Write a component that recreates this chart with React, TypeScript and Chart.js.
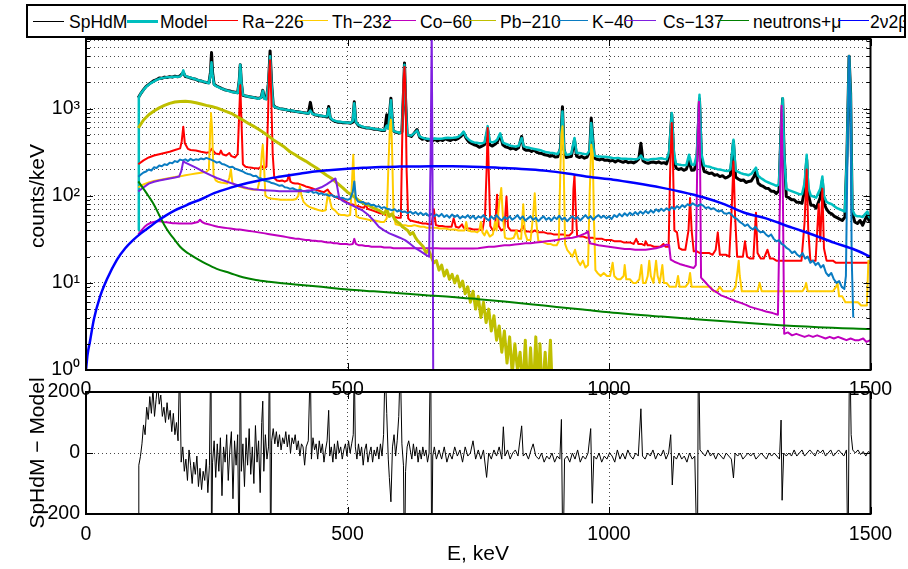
import React, { useEffect, useRef } from 'react';
import { Chart, registerables } from 'chart.js';

Chart.register(...registerables);

const FONT = "'Liberation Sans', Arial, Helvetica, sans-serif";

// ---------- axes / ticks ----------
const X_TICKS = [0, 500, 1000, 1500];
const Y_MIN = 1;
const Y_MAX = 6300;
const Y_DECADES = [1, 10, 100, 1000];
const Y_DECADE_LABELS = ['10⁰', '10¹', '10²', '10³'];
const Y_MINOR_MULT = [1, 2, 3, 4, 5, 6, 7, 8, 9];
const RES_TICKS = [-200, 0, 200];

// ---------- series ----------
const SERIES_NAMES = ['SpHdM', 'Model', 'Ra−226', 'Th−232', 'Co−60', 'Pb−210', 'K−40', 'Cs−137', 'neutrons+μ', '2ν2β'];
const SERIES_COLORS = ['#000000', '#00BFBF', '#FF0000', '#FFCC00', '#BF00BF', '#BFBF00', '#0A7CC2', '#7F1FE0', '#008000', '#0000FF'];

const SPHDM: [number, number][] = [[100,1330],[105,1500],[110,1650],[115,1800],[120,1900],[125,2000],[130,2100],[135,2150],[140,2250],[145,2230],[150,2300],[155,2280],[160,2330],[165,2300],[170,2360],[175,2320],[180,2380],[186,2600],[190,2340],[195,2300],[200,2250],[205,2200],[210,2170],[215,2100],[220,2080],[225,2030],[230,2000],[235,1980],[238,2600],[240,4400],[242,2600],[245,1900],[250,1820],[255,1760],[260,1700],[265,1650],[270,1620],[275,1600],[280,1560],[285,1540],[290,1520],[293,2100],[295,3200],[297,2000],[300,1420],[305,1400],[310,1380],[315,1360],[320,1340],[325,1330],[330,1310],[335,1350],[338,1620],[341,1320],[345,1300],[349,2000],[352,4600],[355,1900],[358,1100],[362,1040],[366,1020],[370,1000],[375,990],[380,980],[385,960],[390,950],[395,940],[400,930],[405,920],[410,910],[415,900],[420,890],[425,880],[429,1180],[433,880],[437,850],[442,840],[447,830],[452,820],[457,810],[461,800],[464,1060],[467,780],[471,740],[476,715],[481,700],[486,700],[491,690],[496,690],[501,690],[506,680],[510,700],[513,1200],[516,700],[521,640],[526,620],[531,610],[536,600],[541,600],[546,590],[551,580],[556,580],[561,570],[566,560],[571,560],[575,850],[578,600],[583,1320],[587,560],[591,540],[596,530],[600,525],[604,540],[607,1500],[609,3350],[611,1300],[614,500],[618,490],[622,480],[627,520],[633,575],[638,470],[643,445],[648,455],[653,430],[658,440],[662,425],[667,445],[672,425],[677,440],[682,430],[687,450],[692,440],[697,430],[702,448],[707,440],[712,455],[717,480],[722,530],[727,455],[732,415],[737,400],[742,385],[747,378],[752,360],[757,372],[762,385],[768,560],[772,385],[777,372],[782,390],[786,410],[792,500],[797,385],[802,365],[807,358],[812,345],[817,352],[822,340],[827,355],[833,480],[837,345],[842,332],[847,335],[852,322],[857,335],[862,315],[867,308],[872,305],[877,295],[882,292],[887,284],[892,290],[897,278],[902,280],[907,350],[911,1050],[914,340],[918,275],[923,280],[928,282],[934,440],[938,285],[943,275],[948,282],[953,270],[958,278],[963,320],[966,780],[969,450],[972,272],[977,262],[982,258],[987,265],[992,255],[997,258],[1002,250],[1007,255],[1012,244],[1017,256],[1022,248],[1027,242],[1032,250],[1037,240],[1042,244],[1047,238],[1052,248],[1057,265],[1061,400],[1065,252],[1070,240],[1075,236],[1080,242],[1085,244],[1090,238],[1095,245],[1100,236],[1105,240],[1110,232],[1115,290],[1120,860],[1124,290],[1128,208],[1133,200],[1138,205],[1143,196],[1148,202],[1153,250],[1158,196],[1163,198],[1168,250],[1173,1300],[1177,250],[1182,190],[1187,186],[1192,180],[1197,182],[1202,172],[1207,175],[1212,166],[1217,170],[1222,160],[1227,164],[1232,172],[1238,420],[1242,164],[1247,156],[1252,150],[1257,152],[1262,142],[1267,146],[1272,148],[1277,165],[1281,190],[1285,140],[1290,132],[1295,128],[1300,122],[1305,121],[1310,113],[1315,113],[1320,106],[1325,114],[1329,600],[1332,1300],[1335,290],[1339,98],[1344,95],[1349,90],[1354,90],[1359,84],[1364,84],[1369,82],[1374,115],[1378,260],[1381,104],[1386,78],[1391,78],[1396,72],[1401,86],[1404,95],[1408,150],[1411,82],[1416,70],[1421,64],[1426,62],[1431,58],[1436,56],[1441,54],[1446,52],[1451,57],[1455,300],[1459,4000],[1462,1500],[1465,64],[1470,50],[1475,48],[1480,52],[1485,46],[1490,54],[1494,60],[1497,52],[1500,53]];

const MODEL: [number, number][] = [[100,40],[101,1350],[105,1500],[110,1640],[115,1780],[120,1880],[125,1980],[130,2060],[135,2140],[140,2200],[145,2240],[150,2270],[155,2290],[160,2300],[165,2310],[170,2320],[175,2330],[180,2340],[183,2450],[186,2750],[189,2400],[193,2320],[200,2260],[205,2220],[210,2170],[215,2120],[220,2080],[225,2040],[230,2000],[235,1960],[238,2500],[240,3400],[242,2400],[245,1880],[250,1800],[255,1740],[260,1690],[265,1650],[270,1610],[275,1580],[280,1550],[285,1530],[290,1510],[293,2100],[295,3200],[297,2000],[300,1440],[305,1400],[310,1380],[315,1360],[320,1340],[325,1320],[330,1300],[335,1340],[338,1600],[341,1300],[345,1280],[349,2000],[352,4000],[355,1800],[358,1080],[362,1040],[366,1020],[370,1000],[375,990],[380,975],[385,965],[390,955],[395,945],[400,930],[405,920],[410,915],[415,900],[420,890],[425,880],[429,950],[433,870],[437,855],[442,845],[447,835],[452,825],[457,815],[461,820],[464,1000],[467,790],[471,750],[476,725],[481,710],[486,705],[491,700],[496,695],[501,690],[506,690],[510,720],[513,1150],[516,700],[521,650],[526,630],[531,615],[536,605],[541,600],[546,595],[551,588],[556,582],[561,575],[566,568],[571,570],[575,640],[578,590],[583,1250],[587,560],[591,545],[596,535],[600,525],[604,540],[607,1400],[609,3200],[611,1200],[614,505],[618,495],[622,490],[627,520],[633,560],[638,480],[643,465],[648,455],[653,450],[658,445],[662,450],[667,455],[672,450],[677,452],[682,455],[687,460],[692,462],[697,460],[702,462],[707,465],[712,475],[717,500],[722,545],[727,470],[732,440],[737,420],[742,410],[747,405],[752,400],[757,400],[762,410],[768,630],[772,420],[777,410],[782,420],[786,440],[792,520],[797,410],[802,395],[807,385],[812,375],[817,370],[822,368],[827,372],[833,460],[837,370],[842,360],[847,355],[852,350],[857,345],[862,340],[867,335],[872,328],[877,320],[882,315],[887,312],[892,310],[897,305],[902,302],[907,340],[911,930],[914,340],[918,296],[923,298],[928,305],[934,460],[938,310],[943,310],[948,305],[953,302],[958,300],[963,330],[966,685],[969,420],[972,290],[977,283],[982,282],[987,281],[992,280],[997,278],[1002,275],[1007,272],[1012,270],[1017,272],[1022,268],[1027,266],[1032,266],[1037,265],[1042,264],[1047,262],[1052,262],[1057,270],[1061,290],[1065,265],[1070,260],[1075,258],[1080,262],[1085,265],[1090,265],[1095,268],[1100,270],[1105,265],[1110,262],[1115,320],[1120,890],[1124,320],[1128,232],[1133,228],[1138,225],[1143,224],[1148,226],[1153,296],[1158,228],[1163,225],[1168,300],[1173,1440],[1177,300],[1182,222],[1187,218],[1192,215],[1197,210],[1202,206],[1207,202],[1212,200],[1217,197],[1222,194],[1227,192],[1232,200],[1238,440],[1242,195],[1247,188],[1252,182],[1257,178],[1262,175],[1267,172],[1272,178],[1277,195],[1281,210],[1285,170],[1290,160],[1295,153],[1300,146],[1305,142],[1310,138],[1315,134],[1320,130],[1325,135],[1329,600],[1332,1320],[1335,300],[1339,120],[1344,116],[1349,113],[1354,110],[1359,107],[1364,104],[1369,104],[1374,140],[1378,296],[1381,125],[1386,100],[1391,98],[1396,95],[1401,110],[1404,120],[1408,166],[1411,100],[1416,85],[1421,82],[1426,80],[1431,76],[1436,72],[1441,70],[1446,68],[1451,66],[1455,300],[1459,4000],[1462,1400],[1465,70],[1470,60],[1475,58],[1480,58],[1485,57],[1490,62],[1494,66],[1497,58],[1500,55]];

const RA226: [number, number][] = [[100,230],[110,255],[120,275],[130,290],[140,300],[150,310],[160,320],[170,335],[180,350],[183,420],[186,620],[189,400],[195,345],[200,335],[210,330],[220,320],[230,312],[236,315],[240,345],[243,330],[248,305],[255,300],[258,330],[261,300],[268,290],[274,310],[278,285],[285,275],[290,300],[293,900],[295,1850],[297,800],[300,230],[305,215],[310,212],[320,208],[330,205],[336,220],[340,205],[345,215],[348,800],[350,2500],[352,3600],[354,1500],[357,300],[360,160],[365,150],[370,148],[375,150],[380,145],[385,150],[388,175],[391,145],[395,140],[400,138],[405,138],[410,135],[415,132],[420,128],[426,125],[432,122],[438,118],[444,115],[450,112],[455,110],[462,118],[466,108],[472,100],[478,96],[484,93],[490,90],[496,86],[502,82],[508,80],[514,78],[520,76],[526,74],[532,73],[535,82],[538,71],[544,69],[550,67],[556,65],[562,63],[568,62],[574,60],[580,60],[585,62],[590,57],[596,56],[602,56],[605,600],[607,2000],[609,3000],[611,1500],[613,200],[616,55],[620,52],[626,51],[632,50],[638,49],[644,48],[650,48],[656,47],[661,47],[665,70],[669,46],[675,45],[681,45],[687,44],[693,44],[699,44],[703,55],[707,44],[713,43],[719,47],[722,43],[728,42],[734,42],[740,41],[746,41],[752,41],[758,40],[763,60],[766,200],[768,600],[770,200],[773,45],[778,40],[782,42],[786,103],[789,45],[794,40],[800,42],[804,98],[807,44],[812,40],[818,40],[824,40],[830,39],[836,45],[840,39],[846,39],[852,38],[858,40],[864,38],[870,38],[876,38],[882,37],[888,37],[894,36],[900,36],[906,36],[912,36],[918,35],[924,35],[930,38],[932,120],[934,170],[936,80],[939,35],[945,34],[951,34],[957,33],[963,33],[969,33],[975,32],[981,32],[987,32],[993,31],[999,31],[1005,31],[1011,30],[1017,30],[1023,30],[1029,29],[1035,29],[1041,29],[1047,28],[1052,32],[1056,28],[1062,28],[1068,27],[1070,30],[1074,27],[1080,27],[1086,26],[1092,26],[1098,26],[1104,28],[1108,26],[1114,26],[1117,200],[1120,685],[1122,300],[1125,40],[1130,38],[1134,25],[1140,24],[1146,24],[1152,40],[1155,94],[1158,40],[1162,23],[1168,23],[1174,22],[1180,22],[1186,22],[1192,22],[1198,21],[1204,24],[1208,38],[1212,21],[1218,21],[1224,21],[1230,20],[1235,80],[1238,247],[1241,60],[1245,20],[1250,20],[1256,20],[1260,30],[1264,20],[1270,19],[1276,19],[1281,64],[1284,22],[1290,19],[1296,19],[1303,24],[1308,19],[1314,19],[1320,18],[1326,18],[1332,18],[1338,18],[1344,18],[1350,18],[1356,18],[1362,18],[1368,18],[1374,50],[1378,200],[1381,40],[1385,18],[1390,18],[1395,18],[1401,80],[1404,30],[1408,120],[1411,25],[1416,18],[1422,18],[1428,18],[1434,17],[1440,17],[1446,17],[1452,17],[1458,17],[1464,17],[1470,17],[1476,17],[1482,17],[1488,17],[1494,17],[1500,17]];

const TH232: [number, number][] = [[100,125],[110,135],[120,142],[130,148],[140,152],[150,156],[160,160],[170,164],[180,167],[190,172],[200,176],[210,180],[220,184],[230,188],[235,200],[238,700],[239,890],[241,600],[244,170],[248,150],[252,145],[258,142],[264,140],[270,138],[274,160],[277,200],[280,140],[286,132],[292,128],[298,125],[304,122],[310,120],[316,118],[322,117],[328,118],[333,160],[336,300],[338,385],[340,250],[343,100],[348,95],[354,93],[360,92],[366,91],[372,90],[378,90],[384,90],[390,90],[396,90],[402,92],[406,100],[409,130],[412,100],[416,85],[422,78],[428,74],[434,72],[440,70],[446,68],[452,67],[458,68],[461,90],[463,107],[466,90],[470,72],[476,68],[482,62],[488,60],[494,60],[500,59],[505,60],[508,120],[511,296],[514,100],[517,58],[522,56],[528,55],[534,54],[540,53],[546,52],[552,52],[558,51],[564,50],[570,50],[575,55],[578,200],[581,600],[583,748],[585,400],[588,60],[592,47],[598,46],[604,46],[610,46],[616,45],[622,45],[628,46],[634,45],[640,44],[646,44],[652,43],[658,43],[664,43],[670,43],[676,42],[682,42],[688,42],[694,41],[700,41],[706,41],[712,40],[718,40],[724,40],[727,50],[730,40],[736,39],[742,39],[748,38],[752,40],[755,50],[758,38],[762,35],[766,40],[772,34],[778,36],[782,50],[785,40],[790,80],[794,123],[797,60],[801,33],[806,32],[812,32],[818,33],[823,40],[827,32],[832,32],[836,80],[839,38],[844,31],[850,31],[855,60],[858,107],[861,50],[865,30],[870,30],[876,29],[882,28],[888,28],[894,27],[900,27],[904,30],[907,200],[909,500],[911,626],[913,300],[916,28],[920,24],[925,22],[930,20],[935,24],[940,18],[945,16],[950,18],[955,15],[960,16],[963,100],[966,385],[969,300],[971,60],[974,14],[978,13],[984,12],[990,13],[996,12],[1002,12],[1007,17],[1010,12],[1016,11],[1022,11],[1028,12],[1030,16],[1033,11],[1040,11],[1046,10],[1052,10],[1058,11],[1062,16],[1065,10],[1070,10],[1074,12],[1077,18],[1080,12],[1085,10],[1090,18],[1093,12],[1097,10],[1102,16],[1105,10],[1110,10],[1116,9],[1122,9],[1128,9],[1132,12],[1135,9],[1140,9],[1146,9],[1152,10],[1155,13],[1158,9],[1164,9],[1170,9],[1176,9],[1182,9],[1188,9],[1194,9],[1200,8],[1206,8],[1212,9],[1218,8],[1224,8],[1230,8],[1236,8],[1242,9],[1246,14],[1248,18],[1250,12],[1254,8],[1260,8],[1266,8],[1272,8],[1278,8],[1284,8],[1288,10],[1292,8],[1298,8],[1304,8],[1310,8],[1316,8],[1322,8],[1328,8],[1334,8],[1340,8],[1346,8],[1352,8],[1358,8],[1364,8],[1370,8],[1375,9],[1377,10],[1380,8],[1386,8],[1392,8],[1398,8],[1404,8],[1410,8],[1416,8],[1422,8],[1428,8],[1434,9],[1437,10],[1440,7],[1446,7],[1452,6],[1458,6],[1464,6],[1470,6],[1476,6],[1482,5.5],[1488,5.5],[1493,5.5],[1496,18],[1500,17]];

const CO60: [number, number][] = [[100,36],[106,40],[112,44],[118,47],[124,49],[130,50],[136,51],[142,51],[148,50],[154,49.5],[160,49],[166,48.5],[172,48.5],[178,48],[184,48],[190,48],[196,48],[202,48],[208,49],[214,50],[218,53],[222,50],[228,48],[234,47],[240,46],[246,45],[252,44],[258,43.5],[264,43],[270,42.5],[276,42],[282,41.5],[288,41],[294,41],[300,40.5],[306,40],[312,39.5],[318,39],[324,38.5],[330,38],[336,37.5],[342,37],[348,36.5],[354,36],[360,35.5],[366,35],[372,34.5],[378,34],[384,33.5],[390,33],[396,32.5],[402,32],[408,32],[414,31.5],[420,31],[426,31],[432,30.5],[438,30.5],[444,30],[450,30],[456,29.5],[462,29],[468,29],[474,28.5],[480,28.5],[486,28],[492,28],[498,28],[504,27.5],[510,28],[513,32],[516,28],[522,27],[528,27],[534,26.5],[540,26.5],[546,26],[552,26],[558,26],[564,26],[570,25.5],[576,25.5],[582,25.5],[588,25],[594,25],[600,25],[610,25],[620,25],[630,25],[640,25],[650,25],[660,25],[670,25],[680,24.8],[690,24.8],[700,24.8],[710,24.8],[720,24.8],[730,24.8],[740,24.8],[750,25],[760,25.5],[770,26],[780,26],[790,26.5],[800,27],[810,27],[820,27.5],[830,28],[840,28.5],[850,28.5],[860,29],[870,29.5],[880,30],[890,30.5],[900,31],[910,32],[920,32.5],[930,33],[940,34],[950,36],[955,37],[960,39],[963,28.5],[970,28],[980,27],[990,26.5],[1000,26],[1010,25.5],[1020,25],[1030,24.5],[1040,24.5],[1050,24],[1060,24],[1070,24],[1080,24.5],[1090,25],[1100,26],[1110,27.5],[1115,27],[1118,18.5],[1125,17.5],[1135,16.5],[1145,15.8],[1155,15.2],[1162,14.8],[1166,16],[1169,300],[1172,1200],[1174,300],[1176,11.5],[1182,10.5],[1190,9.3],[1198,8.3],[1206,7.8],[1214,7.2],[1222,6.9],[1230,6.6],[1236,6.4],[1244,6.1],[1252,5.9],[1262,5.6],[1270,5.3],[1280,5.1],[1290,4.9],[1300,4.7],[1313,4.5],[1323,4.3],[1327,100],[1330,1080],[1332,200],[1335,2.6],[1342,2.7],[1350,2.5],[1358,2.6],[1366,2.5],[1374,2.4],[1382,2.5],[1390,2.4],[1398,2.5],[1406,2.4],[1414,2.3],[1422,2.4],[1430,2.3],[1438,2.4],[1446,2.3],[1454,2.2],[1462,2.3],[1470,2.2],[1478,2.2],[1486,2.3],[1492,2.1],[1500,2.2]];

const PB210: [number, number][] = [[100,600],[110,740],[120,850],[130,940],[140,1020],[150,1090],[160,1150],[170,1190],[180,1210],[190,1215],[200,1200],[210,1170],[220,1130],[230,1090],[240,1060],[250,1020],[260,970],[270,920],[280,870],[290,800],[300,740],[310,680],[320,630],[330,580],[340,530],[350,480],[360,430],[370,395],[380,360],[390,320],[400,295],[410,270],[420,250],[430,228],[440,210],[450,190],[460,172],[470,158],[480,140],[490,125],[500,110],[510,100],[520,90],[530,82],[540,78],[550,72],[560,68],[570,62],[575,70],[580,58],[585,62],[590,54],[595,50],[600,48],[605,44],[610,42],[615,40],[620,36],[625,38],[630,33],[635,30],[640,28],[645,26],[650,22],[655,24],[660,20],[665,17],[670,18],[675,14],[680,16],[685,12],[690,14],[695,11],[700,12.5],[705,10],[710,12],[715,9],[720,10.5],[725,7.5],[730,9],[735,6],[740,8],[745,5],[750,7],[755,4],[760,6],[765,3.5],[770,5],[775,2.8],[780,4.2],[785,2.2],[790,3.2],[795,1.6],[800,2.8],[805,1.2],[810,2.4],[815,0.9],[820,2.0],[825,1.0],[830,1.6],[835,0.6],[840,2.2],[845,0.5],[850,1.8],[855,0.5],[860,2.4],[865,0.6],[868,2.0],[872,0.5],[878,1.6],[882,0.5],[888,2.2],[892,0.5],[900,0.5]];

const K40: [number, number][] = [[100,165],[105,175],[110,185],[115,190],[120,200],[125,195],[130,212],[135,208],[140,222],[145,218],[150,230],[155,226],[160,240],[165,236],[170,250],[175,244],[180,260],[185,255],[190,262],[195,250],[200,265],[205,255],[210,262],[215,258],[220,268],[225,262],[230,272],[235,265],[240,258],[245,250],[250,240],[255,245],[260,232],[265,228],[270,220],[275,212],[280,215],[285,205],[290,200],[295,195],[300,190],[305,182],[310,178],[315,175],[320,168],[325,170],[330,160],[335,158],[340,150],[345,148],[350,145],[355,140],[360,138],[365,134],[370,130],[375,132],[380,125],[385,124],[390,120],[395,122],[400,118],[405,115],[410,117],[415,113],[420,112],[425,110],[430,114],[435,108],[440,110],[445,105],[450,107],[455,103],[460,104],[465,100],[470,102],[475,97],[480,98],[485,94],[490,95],[495,92],[500,90],[505,92],[510,110],[513,146],[516,95],[520,86],[525,84],[530,85],[535,80],[540,82],[545,78],[550,79],[555,75],[560,76],[565,72],[570,74],[575,71],[580,70],[585,68],[590,70],[595,66],[600,68],[605,65],[610,66],[615,63],[620,66],[625,62],[630,65],[635,61],[640,64],[645,60],[650,63],[655,59],[660,62],[665,58],[670,61],[675,58],[680,62],[685,57],[690,60],[695,56],[700,61],[705,57],[710,60],[715,55],[720,58],[725,56],[730,60],[735,55],[740,59],[745,54],[750,58],[755,56],[760,60],[765,55],[770,52],[775,58],[780,54],[785,60],[790,55],[795,52],[800,57],[805,54],[810,58],[815,53],[820,56],[825,60],[830,54],[835,58],[840,52],[845,55],[850,58],[855,53],[860,56],[865,51],[870,55],[875,58],[880,53],[885,56],[890,52],[895,57],[900,54],[905,59],[910,53],[915,56],[920,51],[925,55],[930,58],[935,54],[940,57],[945,52],[950,56],[955,60],[960,55],[965,58],[970,53],[975,57],[980,60],[985,56],[990,59],[995,55],[1000,58],[1005,54],[1010,60],[1015,57],[1020,62],[1025,58],[1030,63],[1035,59],[1040,64],[1045,60],[1050,65],[1055,61],[1060,66],[1065,62],[1070,67],[1075,63],[1080,68],[1085,64],[1090,70],[1095,66],[1100,71],[1105,67],[1110,72],[1115,68],[1120,74],[1125,70],[1130,76],[1135,72],[1140,78],[1145,74],[1150,80],[1155,77],[1160,82],[1165,78],[1170,76],[1175,80],[1180,77],[1185,72],[1190,74],[1195,70],[1200,72],[1205,68],[1210,66],[1215,68],[1220,63],[1225,62],[1230,64],[1235,60],[1240,56],[1245,54],[1250,50],[1255,48],[1260,45],[1265,47],[1270,43],[1275,41],[1280,44],[1285,40],[1290,38],[1295,39],[1300,36],[1305,34],[1310,36],[1315,32],[1320,30],[1325,31],[1330,28],[1335,27],[1340,25],[1345,24],[1350,22],[1355,23],[1360,21],[1365,20],[1370,22],[1375,19],[1380,20],[1385,17],[1390,18],[1395,16],[1400,17],[1405,15],[1410,16],[1415,13],[1420,12],[1425,13],[1430,11],[1435,10],[1440,10.5],[1445,9],[1450,8.5],[1453,12],[1456,300],[1459,4000],[1462,1000],[1464,20],[1467,4]];

const CS137: [number, number][] = [[100,112],[110,125],[120,138],[130,145],[140,150],[150,154],[160,158],[170,162],[178,166],[182,190],[186,248],[190,240],[200,225],[210,210],[220,195],[230,182],[240,170],[250,160],[260,152],[270,145],[280,138],[290,132],[300,126],[310,122],[320,119],[330,117],[340,116],[350,115],[360,114],[370,113],[380,113],[390,113],[400,113],[410,113],[420,114],[430,116],[440,119],[450,125],[460,135],[470,148],[477,158],[480,130],[484,95],[490,88],[500,82],[510,77],[520,72],[530,67],[540,60],[550,52],[560,44],[570,40],[580,37],[590,35],[600,33],[610,31],[620,28],[630,25],[640,23],[650,21],[656,20],[659,300],[661,8000],[663,50],[664,0.5]];

const NEUTRONS: [number, number][] = [[100,146],[110,120],[120,98],[130,79],[140,60],[150,46],[160,37],[170,31],[180,26],[190,23],[200,21],[215,18.5],[230,16.5],[250,14.5],[275,13],[300,11.6],[325,10.8],[350,10.3],[375,9.9],[400,9.6],[450,9.0],[500,8.4],[550,8.0],[600,7.6],[650,7.2],[700,6.9],[750,6.5],[800,6.1],[850,5.7],[900,5.3],[950,4.95],[1000,4.6],[1100,4.1],[1200,3.7],[1300,3.35],[1400,3.1],[1500,2.95]];

const DBD: [number, number][] = [[0,1],[3,1.5],[8,2.2],[15,3.8],[27,7],[40,11],[59,18.4],[75,25],[90,31],[105,37],[122,44],[138,52],[154,60],[170,68],[186,75],[200,82],[218,90],[245,107],[275,123],[309,140],[340,154],[373,166],[405,178],[437,190],[470,198],[500,204],[530,209],[565,214],[600,216],[629,217],[660,218],[700,218],[757,214],[800,208],[850,200],[881,193],[920,180],[960,165],[1008,153],[1050,140],[1100,124],[1135,112],[1180,96],[1220,80],[1262,63],[1300,55],[1350,43],[1390,35.7],[1430,29],[1470,24],[1500,20]];

const RESIDUAL: [number, number][] = [[100,-400],[101,-40],[104,-12],[107,30],[110,92],[113,60],[116,150],[119,110],[122,185],[125,130],[128,210],[131,120],[134,175],[137,230],[140,160],[143,190],[146,120],[149,150],[152,100],[155,165],[158,110],[161,140],[164,70],[167,130],[170,60],[173,100],[176,40],[179,300],[182,-30],[185,20],[188,-60],[191,-20],[194,-90],[197,10],[200,-40],[203,-100],[206,-30],[209,-70],[212,-10],[215,-110],[218,-50],[221,-120],[224,-60],[227,-90],[230,-20],[233,-130],[236,-40],[239,400],[240,-400],[242,-30],[245,40],[248,-80],[251,30],[254,-60],[257,50],[260,-140],[263,20],[266,-30],[269,60],[272,-90],[275,10],[278,70],[281,-150],[284,40],[287,-40],[290,60],[293,-400],[295,400],[297,-60],[300,30],[303,-110],[306,50],[309,-40],[312,80],[315,-70],[318,20],[321,-100],[324,90],[327,-30],[330,40],[333,-130],[336,100],[338,170],[340,-60],[343,60],[346,-20],[349,20],[351,400],[353,-400],[355,40],[358,80],[361,30],[364,70],[367,20],[370,60],[373,10],[376,50],[379,30],[382,70],[385,20],[388,60],[391,0],[394,50],[397,30],[400,60],[403,10],[406,40],[409,-10],[412,30],[415,20],[418,-40],[421,20],[425,40],[429,300],[431,-20],[434,50],[437,10],[440,30],[443,-20],[446,40],[449,0],[452,30],[455,-30],[458,10],[461,40],[464,140],[466,-10],[469,20],[472,-30],[475,30],[478,-20],[481,40],[484,0],[487,20],[490,-20],[493,10],[496,30],[499,-10],[502,40],[505,0],[508,30],[511,60],[513,300],[515,20],[518,-20],[521,30],[524,-10],[527,20],[530,-40],[533,10],[536,30],[539,-30],[542,0],[545,20],[548,-30],[551,10],[554,-10],[557,20],[560,-20],[563,30],[566,-10],[569,60],[572,300],[575,130],[578,-20],[580,-80],[583,-160],[586,20],[589,60],[592,-10],[595,40],[598,120],[601,300],[604,30],[607,-40],[609,-400],[611,-60],[614,20],[617,40],[620,10],[623,-20],[626,30],[629,-10],[632,20],[635,-30],[638,10],[641,-20],[644,20],[647,-10],[650,10],[653,-30],[656,0],[659,400],[661,-400],[663,-10],[666,20],[670,-20],[675,10],[680,-20],[685,20],[690,-30],[695,0],[700,-20],[705,20],[710,-10],[715,10],[720,-30],[725,20],[730,-10],[735,0],[740,40],[745,-20],[750,10],[755,-20],[760,10],[766,-80],[770,0],[775,-20],[780,10],[785,-10],[790,20],[795,-20],[798,86],[801,-10],[806,10],[811,-20],[816,0],[821,10],[826,-10],[833,89],[836,-10],[841,0],[846,-20],[851,10],[855,30],[860,-10],[866,-20],[871,0],[876,-30],[881,-10],[886,-20],[891,0],[896,-30],[901,-10],[906,-20],[909,110],[912,-400],[915,-20],[920,-10],[925,-30],[930,0],[935,-20],[940,10],[945,-30],[950,-10],[955,-20],[960,0],[965,80],[968,-165],[971,-10],[976,-20],[981,0],[986,-30],[991,-10],[996,-20],[1001,0],[1006,-10],[1011,-30],[1016,10],[1021,-20],[1026,0],[1031,-20],[1036,10],[1041,-10],[1046,-20],[1051,0],[1056,-10],[1061,145],[1064,-10],[1069,-20],[1074,0],[1079,-10],[1084,10],[1089,-20],[1094,0],[1099,-10],[1104,10],[1109,-20],[1114,0],[1118,60],[1121,-105],[1124,-10],[1129,-20],[1134,0],[1139,-20],[1144,-10],[1149,-30],[1154,0],[1159,-20],[1164,-10],[1169,-400],[1171,400],[1174,10],[1179,0],[1184,-10],[1189,10],[1194,-10],[1199,0],[1204,-20],[1209,0],[1214,-10],[1219,-20],[1224,0],[1229,-10],[1234,-20],[1238,-82],[1241,0],[1246,-10],[1251,0],[1256,-20],[1261,-10],[1266,0],[1271,-10],[1276,0],[1281,-20],[1286,-10],[1291,0],[1296,-10],[1301,-20],[1306,0],[1311,-10],[1316,0],[1321,-10],[1326,-20],[1329,108],[1331,-155],[1334,0],[1339,-10],[1344,0],[1349,-10],[1354,10],[1359,-10],[1364,0],[1369,10],[1374,-10],[1379,0],[1384,10],[1389,0],[1394,-10],[1399,10],[1404,0],[1409,10],[1414,-10],[1419,0],[1424,10],[1429,-10],[1434,0],[1439,10],[1444,0],[1449,-10],[1454,10],[1457,-400],[1460,400],[1463,60],[1466,10],[1471,0],[1476,10],[1481,-5],[1486,5],[1491,-10],[1496,5],[1500,0]];

const SPECTRA = [SPHDM, MODEL, RA226, TH232, CO60, PB210, K40, CS137, NEUTRONS, DBD];

// ---------- styles ----------
const LINE_WIDTHS = [3, 2.5, 2, 2, 2, 3, 2, 2, 2, 2.5];
const SMOOTH = [false, false, false, false, false, false, false, false, true, true];
const LEGEND_LINE_X = [33, 127, 207, 297, 385, 465, 557, 625, 718, 838];
const LEGEND_TEXT_X = [69, 160, 242, 332, 420, 500, 592, 663, 753, 870];
const LEGEND_LINE_W = [1, 3, 1.5, 1.5, 1.5, 1.5, 1.5, 1.5, 1.5, 1.5];
const TICK_FONT = 19.5;
const LABEL_FONT = 21;
const LEGEND_FONT = 17.5;

const LOG_TICKS: number[] = [];
Y_DECADES.forEach((d) => Y_MINOR_MULT.forEach((m) => { if (d * m <= Y_MAX) LOG_TICKS.push(d * m); }));

const GRID_COLOR = 'rgba(40,40,40,0.85)';

const framePlugin = {
  id: 'frame',
  afterDatasetsDraw(chart: any) {
    const { ctx, chartArea: a, scales } = chart;
    const x = scales.x;
    const y = scales.y;
    ctx.save();
    ctx.strokeStyle = '#000';
    ctx.lineWidth = 1;
    const seg = (x1: number, y1: number, x2: number, y2: number) => {
      ctx.beginPath(); ctx.moveTo(x1, y1); ctx.lineTo(x2, y2); ctx.stroke();
    };
    X_TICKS.forEach((v) => {
      const px = Math.round(x.getPixelForValue(v)) + 0.5;
      seg(px, a.bottom, px, a.bottom - 7);
      seg(px, a.top, px, a.top + 7);
    });
    y.ticks.forEach((t: any) => {
      const py = Math.round(y.getPixelForValue(t.value)) + 0.5;
      const major = y.type === 'logarithmic' ? Y_DECADES.includes(t.value) : true;
      const len = major ? 7 : 4;
      seg(a.left, py, a.left + len, py);
      seg(a.right, py, a.right - len, py);
    });
    ctx.lineWidth = 2;
    ctx.strokeRect(a.left, a.top, a.right - a.left, a.bottom - a.top);
    ctx.restore();
  },
};

function xScale(height: number, padding: number) {
  return {
    type: 'linear',
    min: 0,
    max: 1500,
    afterBuildTicks: (s: any) => { s.ticks = X_TICKS.map((v) => ({ value: v })); },
    afterFit: (s: any) => { s.height = height; s.paddingLeft = 0; s.paddingRight = 0; },
    ticks: {
      padding,
      color: '#000',
      font: { family: FONT, size: TICK_FONT },
      maxRotation: 0,
      autoSkip: false,
      callback: (v: number) => String(v),
    },
    grid: {
      drawTicks: false,
      lineWidth: 1,
      color: (c: any) => (c.tick && (c.tick.value === 0 || c.tick.value === 1500) ? 'rgba(0,0,0,0)' : GRID_COLOR),
    },
    border: { display: false, dash: [1, 3] },
  };
}

function mainConfig(): any {
  return {
    type: 'line',
    data: {
      datasets: SPECTRA.map((d, i) => ({
        label: SERIES_NAMES[i],
        data: d.map(([x, y]) => ({ x, y })),
        borderColor: SERIES_COLORS[i],
        backgroundColor: SERIES_COLORS[i],
        borderWidth: LINE_WIDTHS[i],
        pointRadius: 0,
        fill: false,
        borderJoinStyle: 'round',
        cubicInterpolationMode: SMOOTH[i] ? 'monotone' : 'default',
        tension: 0,
        order: -i,
      })),
    },
    options: {
      animation: false,
      responsive: false,
      events: [],
      layout: { padding: { left: 0, top: 39, right: 37.5, bottom: 0 } },
      plugins: { legend: { display: false }, tooltip: { enabled: false } },
      scales: {
        x: xScale(30, 8),
        y: {
          type: 'logarithmic',
          min: Y_MIN,
          max: Y_MAX,
          afterBuildTicks: (s: any) => { s.ticks = LOG_TICKS.map((v) => ({ value: v })); },
          afterFit: (s: any) => { s.width = 86; s.paddingTop = 0; s.paddingBottom = 0; },
          ticks: {
            padding: 6,
            autoSkip: false,
            color: '#000',
            font: { family: FONT, size: TICK_FONT },
            callback: (v: number) => {
              const k = Y_DECADES.indexOf(v);
              return k >= 0 ? Y_DECADE_LABELS[k] : '';
            },
          },
          grid: { drawTicks: false, lineWidth: 1, color: (c: any) => (c.tick && c.tick.value === 1 ? 'rgba(0,0,0,0)' : GRID_COLOR) },
          border: { display: false, dash: [1, 3] },
        },
      },
    },
    plugins: [framePlugin],
  };
}

function resConfig(): any {
  return {
    type: 'line',
    data: {
      datasets: [{
        label: 'SpHdM − Model',
        data: RESIDUAL.map(([x, y]) => ({ x, y })),
        borderColor: '#000',
        borderWidth: 1,
        pointRadius: 0,
        fill: false,
        tension: 0,
      }],
    },
    options: {
      animation: false,
      responsive: false,
      events: [],
      layout: { padding: { left: 0, top: 17, right: 37.5, bottom: 0 } },
      plugins: { legend: { display: false }, tooltip: { enabled: false } },
      scales: {
        x: xScale(55, 9),
        y: {
          type: 'linear',
          min: -200,
          max: 200,
          afterBuildTicks: (s: any) => { s.ticks = RES_TICKS.map((v) => ({ value: v })); },
          afterFit: (s: any) => { s.width = 86; s.paddingTop = 0; s.paddingBottom = 0; },
          ticks: {
            padding: 6,
            autoSkip: false,
            color: '#000',
            font: { family: FONT, size: TICK_FONT },
            callback: (v: number) => (v < 0 ? '−' + Math.abs(v) : String(v)),
          },
          grid: { drawTicks: false, lineWidth: 1, color: (c: any) => (c.tick && c.tick.value === 0 ? GRID_COLOR : 'rgba(0,0,0,0)') },
          border: { display: false, dash: [1, 3] },
        },
      },
    },
    plugins: [framePlugin],
  };
}

export default function App() {
  const mainRef = useRef<HTMLCanvasElement>(null);
  const resRef = useRef<HTMLCanvasElement>(null);

  useEffect(() => {
    const c1 = new Chart(mainRef.current as HTMLCanvasElement, mainConfig());
    const c2 = new Chart(resRef.current as HTMLCanvasElement, resConfig());
    return () => { c1.destroy(); c2.destroy(); };
  }, []);

  const rotated = (text: string, cx: number, cy: number) => (
    <div style={{
      position: 'absolute', left: cx, top: cy, transform: 'translate(-50%, -50%) rotate(-90deg)',
      whiteSpace: 'nowrap', fontSize: LABEL_FONT, lineHeight: 1, color: '#000',
    }}>{text}</div>
  );

  return (
    <div style={{ position: 'absolute', left: 0, top: 0, width: 908, height: 569, overflow: 'hidden', background: '#fff', fontFamily: FONT }}>
      <canvas ref={mainRef} width={908} height={400} style={{ position: 'absolute', left: 0, top: 0, width: 908, height: 400 }} />
      <canvas ref={resRef} width={908} height={194} style={{ position: 'absolute', left: 0, top: 375, width: 908, height: 194 }} />
      {rotated('counts/keV', 36, 196)}
      {rotated('SpHdM − Model', 36, 453)}
      <div style={{ position: 'absolute', left: 478, top: 552, transform: 'translate(-50%, -50%)', whiteSpace: 'nowrap', fontSize: LABEL_FONT, lineHeight: 1, color: '#000' }}>E, keV</div>
      <div style={{ position: 'absolute', left: 26, top: 4, width: 876, height: 30, border: '2px solid #000', background: '#fff', overflow: 'hidden', fontSize: LEGEND_FONT, color: '#000' }}>
        {SERIES_NAMES.map((name, i) => (
          <React.Fragment key={name}>
            <div style={{ position: 'absolute', left: LEGEND_LINE_X[i] - 28, top: 15 - LEGEND_LINE_W[i] / 2, width: 31, height: 0, borderTop: `${LEGEND_LINE_W[i]}px solid ${SERIES_COLORS[i]}` }} />
            <div style={{ position: 'absolute', left: LEGEND_TEXT_X[i] - 28, top: 1, height: 30, lineHeight: '30px', whiteSpace: 'nowrap' }}>{name}</div>
          </React.Fragment>
        ))}
      </div>
    </div>
  );
}
